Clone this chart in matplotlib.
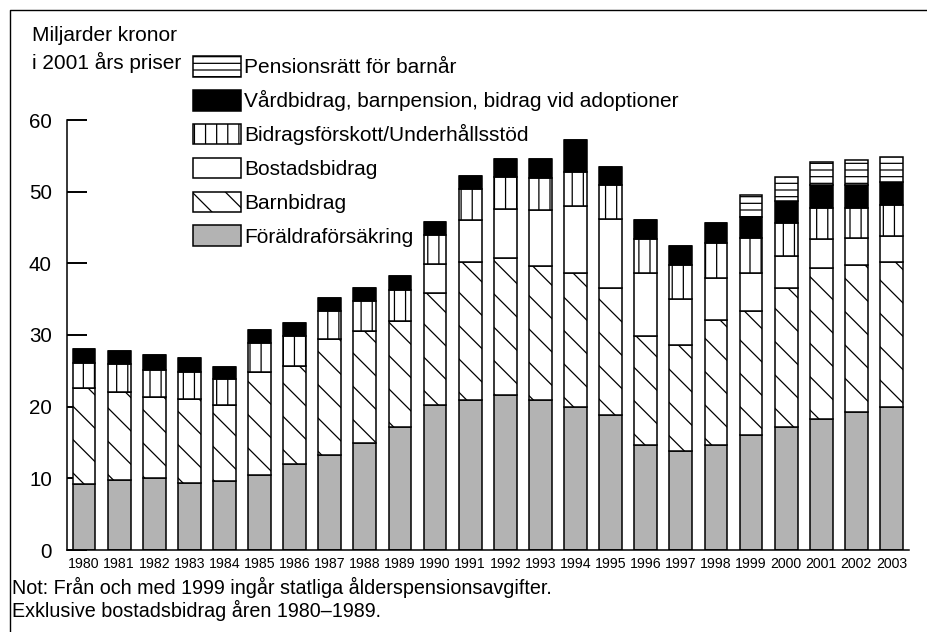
import matplotlib.pyplot as plt
from matplotlib.lines import Line2D

# Data (miljarder kronor, 2001 års priser), läst från figuren
years = [str(y) for y in range(1980, 2004)]
foraldraforsakring = [9.2, 9.7, 10.0, 9.4, 9.6, 10.5, 12.0, 13.2, 15.0, 17.1, 20.2, 21.0,
                      21.6, 21.0, 20.0, 18.9, 14.7, 13.8, 14.6, 16.0, 17.1, 18.3, 19.2, 20.0]
barnbidrag = [13.4, 12.4, 11.4, 11.7, 10.7, 14.4, 13.7, 16.2, 15.6, 14.9, 15.7, 19.2,
              19.2, 18.6, 18.6, 17.7, 15.2, 14.8, 17.5, 17.4, 19.4, 21.1, 20.6, 20.2]
bostadsbidrag = [0, 0, 0, 0, 0, 0, 0, 0, 0, 0, 4.0, 5.9,
                 6.8, 7.9, 9.4, 9.6, 8.8, 6.4, 5.9, 5.3, 4.5, 4.0, 3.7, 3.6]
bidragsforskott = [3.5, 3.8, 3.7, 3.8, 3.5, 4.0, 4.1, 3.9, 4.1, 4.3, 4.0, 4.3,
                   4.4, 4.4, 4.8, 4.7, 4.7, 4.7, 4.8, 4.8, 4.6, 4.3, 4.2, 4.3]
vardbidrag = [1.9, 1.9, 2.1, 1.9, 1.8, 1.8, 1.9, 1.9, 1.9, 1.9, 1.9, 1.8,
              2.6, 2.7, 4.4, 2.5, 2.6, 2.7, 2.8, 3.0, 3.1, 3.2, 3.2, 3.3]
pensionsratt = [0, 0, 0, 0, 0, 0, 0, 0, 0, 0, 0, 0,
                0, 0, 0, 0, 0, 0, 0, 3.1, 3.3, 3.2, 3.5, 3.4]

series = [
    ("Föräldraförsäkring", foraldraforsakring, "#b3b3b3", None),
    ("Barnbidrag", barnbidrag, "white", "\\\\"),
    ("Bostadsbidrag", bostadsbidrag, "white", None),
    ("Bidragsförskott/Underhållsstöd", bidragsforskott, "white", "|||"),
    ("Vårdbidrag, barnpension, bidrag vid adoptioner", vardbidrag, "black", None),
    ("Pensionsrätt för barnår", pensionsratt, "white", "-----"),
]

plt.rcParams['font.family'] = ['Liberation Sans', 'DejaVu Sans']
plt.rcParams['hatch.linewidth'] = 0.45
plt.rcParams['hatch.color'] = 'black'

W, H = 928, 632
fig = plt.figure(figsize=(4.64, 3.16), dpi=200)
ax = fig.add_axes([67 / W, 1 - 550 / H, (909 - 67) / W, (550 - 120) / H])

x = list(range(len(years)))
bottom = [0.0] * len(years)
handles = []
for name, vals, color, hatch in series:
    b = ax.bar(x, vals, width=0.65, bottom=bottom, color=color, edgecolor='black',
               linewidth=0.55, hatch=hatch, label=name)
    handles.append(b)
    bottom = [bo + v for bo, v in zip(bottom, vals)]

ax.set_xlim(-0.484, 23.5)
ax.set_ylim(0, 60)
ax.set_axisbelow(True)
for s in ['top', 'right']:
    ax.spines[s].set_visible(False)
ax.spines['left'].set_linewidth(0.55)
ax.spines['bottom'].set_linewidth(0.55)

ax.set_yticks([0, 10, 20, 30, 40, 50, 60])
ax.tick_params(axis='y', direction='in', length=7.2, width=0.7, pad=5.4, labelsize=7.4)
ax.set_xticks(x)
ax.set_xticklabels(years, fontsize=5.1)
ax.tick_params(axis='x', length=0, pad=2.6)

fig.text(32 / W, 1 - 26 / H, "Miljarder kronor\ni 2001 års priser", fontsize=7.5,
         va='top', ha='left', linespacing=1.38)

ax.legend(handles[::-1], [s[0] for s in series][::-1], loc='upper left',
          bbox_to_anchor=(193 / W, 1 - 56 / H), bbox_transform=fig.transFigure,
          frameon=False, borderpad=0, borderaxespad=0, handlelength=2.31,
          handleheight=1.15, handletextpad=0.15, labelspacing=0.6, fontsize=7.5)

fig.text(12 / W, 1 - 594 / H, "Not: Från och med 1999 ingår statliga ålderspensionsavgifter.",
         fontsize=7.1, va='baseline')
fig.text(12 / W, 1 - 617 / H, "Exklusive bostadsbidrag åren 1980–1989.",
         fontsize=7.1, va='baseline')

# ram upptill och till vänster
fig.add_artist(Line2D([10 / W, 10 / W, 1], [0, 1 - 10 / H, 1 - 10 / H],
                      transform=fig.transFigure, color='black', linewidth=0.5))

fig.savefig('out.png', dpi=200)
